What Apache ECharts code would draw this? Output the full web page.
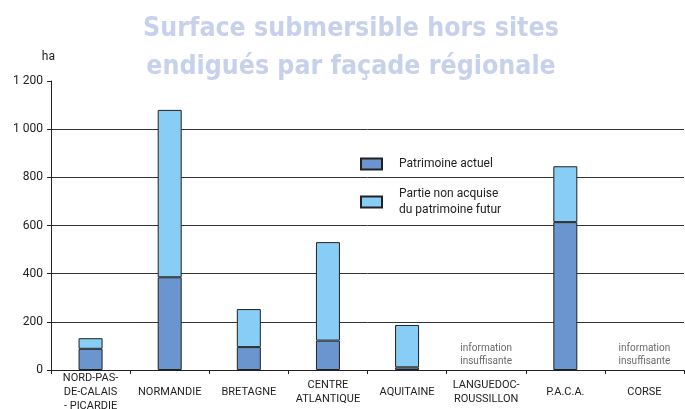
<!DOCTYPE html>
<html>
<head>
<meta charset="utf-8">
<script src="https://cdn.jsdelivr.net/npm/echarts@6/dist/echarts.min.js"></script>
<style>
  html, body { margin: 0; padding: 0; background: #fff; }
  #chart { width: 685px; height: 409px; }
</style>
</head>
<body>
<div id="chart"></div>
<script>
// façades régionales (axe X)
const regions = [
  'NORD-PAS-\nDE-CALAIS\n- PICARDIE',
  'NORMANDIE',
  'BRETAGNE',
  'CENTRE\nATLANTIQUE',
  'AQUITAINE',
  'LANGUEDOC-\nROUSSILLON',
  'P.A.C.A.',
  'CORSE'
]
// hectares
const patrimoineActuel = [88, 385, 95, 122, 11, null, 614, null]
const partieNonAcquise = [44, 695, 158, 409, 176, null, 232, null]
// façades sans données
const infoInsuffisante = [5, 7]

const chart = echarts.init(document.getElementById('chart'))

const fmtNum = v => String(v).replace(/\B(?=(\d{3})+(?!\d))/g, ' ')

const option = {
  animation: false,
  textStyle: { fontFamily: 'Roboto' },
  title: {
    text: 'Surface submersible hors sites\nendigués par façade régionale',
    left: 346,
    textAlign: 'center',
    top: 5,
    textStyle: {
      fontFamily: 'DejaVu Sans Condensed',
      fontWeight: 'bold',
      fontSize: 26.5,
      lineHeight: 38,
      color: '#c8d1ec'
    }
  },
  legend: {
    orient: 'vertical',
    left: 355,
    top: 151,
    icon: 'rect',
    itemWidth: 21,
    itemHeight: 11,
    itemGap: 14,
    textStyle: { fontSize: 12, color: '#222', lineHeight: 16, padding: [0, 0, 0, 12] },
    data: ['Patrimoine actuel', 'Partie non acquise\ndu patrimoine futur']
  },
  grid: { left: 51, right: 1, top: 81, bottom: 39, outerBoundsMode: 'none' },
  xAxis: {
    type: 'category',
    data: regions,
    axisLine: { lineStyle: { color: '#222', width: 1 } },
    axisTick: { show: true, length: 4, lineStyle: { color: '#222' } },
    axisLabel: {
      interval: 0,
      margin: 22,
      verticalAlign: 'middle',
      fontSize: 11,
      lineHeight: 14,
      color: '#222'
    }
  },
  yAxis: {
    type: 'value',
    min: 0,
    max: 1200,
    interval: 200,
    name: 'ha',
    nameLocation: 'end',
    nameGap: 18,
    nameTextStyle: { fontSize: 12, color: '#222', align: 'right', padding: [0, -4, 0, 0] },
    axisLine: { show: true, lineStyle: { color: '#222', width: 1 } },
    axisTick: { show: true, length: 4, lineStyle: { color: '#222' } },
    axisLabel: { fontSize: 12, color: '#222', margin: 8, formatter: fmtNum },
    splitLine: { show: true, showMaxLine: false, lineStyle: { color: '#333', width: 1 } }
  },
  series: [
    {
      name: 'Patrimoine actuel',
      type: 'bar',
      stack: 'total',
      barWidth: 24,
      itemStyle: { color: '#6b95cf', borderColor: '#222', borderWidth: 1 },
      data: patrimoineActuel
    },
    {
      name: 'Partie non acquise\ndu patrimoine futur',
      type: 'bar',
      stack: 'total',
      barWidth: 24,
      itemStyle: { color: '#88cdf5', borderColor: '#222', borderWidth: 1 },
      data: partieNonAcquise
    },
    {
      name: 'info',
      type: 'scatter',
      symbolSize: 0,
      silent: true,
      data: infoInsuffisante.map(i => [i, 0]),
      label: {
        show: true,
        position: 'top',
        distance: 2,
        formatter: 'information\ninsuffisante',
        fontSize: 10,
        lineHeight: 13,
        color: '#444'
      }
    }
  ]
}

chart.setOption(option)
</script>
</body>
</html>
